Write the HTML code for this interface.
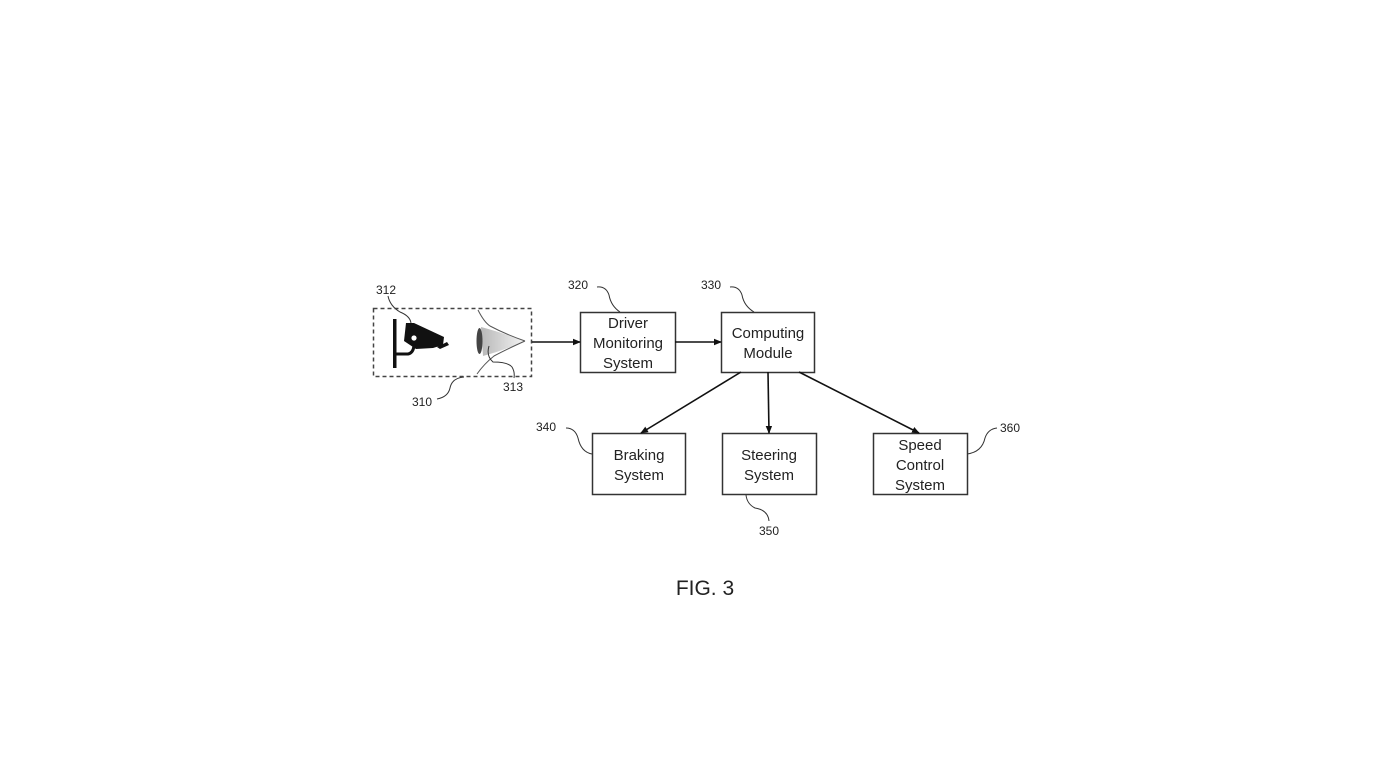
<!DOCTYPE html>
<html>
<head>
<meta charset="utf-8">
<style>
  html,body{margin:0;padding:0;background:#fff;}
  svg{display:block;}
  text{font-family:"Liberation Sans",sans-serif;fill:#222;}
</style>
</head>
<body>
<svg width="1389" height="781" viewBox="0 0 1389 781" xmlns="http://www.w3.org/2000/svg">
  <defs>
    <marker id="ah" markerWidth="8" markerHeight="8" refX="7" refY="4" orient="auto" markerUnits="userSpaceOnUse">
      <path d="M0,0.8 L8,4 L0,7.2 Z" fill="#111"/>
    </marker>
    <linearGradient id="cone" x1="0" y1="0" x2="1" y2="0">
      <stop offset="0" stop-color="#b8b8b8"/>
      <stop offset="1" stop-color="#f4f4f4"/>
    </linearGradient>
  </defs>

  <!-- dashed box 310 -->
  <rect x="373.5" y="308.5" width="158" height="68" fill="none" stroke="#444" stroke-width="1.5" stroke-dasharray="4,3"/>

  <!-- camera icon -->
  <rect x="393" y="319" width="3.5" height="49" fill="#111"/>
  <path d="M395,354 L408,354 Q413,353 414,346" fill="none" stroke="#111" stroke-width="3"/>
  <path d="M406,323 L414,323 L444,337 L443,345 L433,348 L416,349 L404,341 Z" fill="#111"/>
  <path d="M437,347 L447,342 L449,345 L440,349 Z" fill="#111"/>
  <circle cx="414" cy="338" r="2.6" fill="#fff"/>

  <!-- eye / cone -->
  <path d="M481,327 Q500,332 525,341 Q505,350 483,356 Z" fill="url(#cone)"/>
  <ellipse cx="479.5" cy="341" rx="3" ry="13" fill="#444"/>
  <path d="M478,310 Q484,322 490,326 Q505,334 525,341" fill="none" stroke="#555" stroke-width="1"/>
  <path d="M525,341 Q505,350 494,356 Q484,364 477,374" fill="none" stroke="#555" stroke-width="1"/>
  <path d="M489,346 Q486,356 493,362 Q508,362 512,367 Q515,372 514,378" fill="none" stroke="#333" stroke-width="1"/>

  <!-- leaders -->
  <path d="M388,296 Q390,306 400,312 Q410,316 411,323" fill="none" stroke="#333" stroke-width="1"/>
  <path d="M437,399 Q448,397 450,388 Q452,378 464,377" fill="none" stroke="#333" stroke-width="1"/>
  <path d="M597,287 Q606,286 609,295 Q611,306 620,312" fill="none" stroke="#333" stroke-width="1"/>
  <path d="M730,287 Q739,286 742,295 Q744,306 754,312" fill="none" stroke="#333" stroke-width="1"/>
  <path d="M566,428 Q575,428 578,438 Q581,452 592,454" fill="none" stroke="#333" stroke-width="1"/>
  <path d="M746,495 Q747,504 755,508 Q768,510 769,521" fill="none" stroke="#333" stroke-width="1"/>
  <path d="M997,428 Q988,429 985,438 Q982,452 967,454" fill="none" stroke="#333" stroke-width="1"/>

  <!-- labels -->
  <text x="386" y="294" font-size="12" text-anchor="middle">312</text>
  <text x="422" y="406" font-size="12" text-anchor="middle">310</text>
  <text x="513" y="391" font-size="12" text-anchor="middle">313</text>
  <text x="578" y="289" font-size="12" text-anchor="middle">320</text>
  <text x="711" y="289" font-size="12" text-anchor="middle">330</text>
  <text x="546" y="431" font-size="12" text-anchor="middle">340</text>
  <text x="769" y="535" font-size="12" text-anchor="middle">350</text>
  <text x="1010" y="432" font-size="12" text-anchor="middle">360</text>

  <!-- boxes -->
  <g fill="#fff" stroke="#333" stroke-width="1.5">
    <rect x="580.5" y="312.5" width="95" height="60"/>
    <rect x="721.5" y="312.5" width="93" height="60"/>
    <rect x="592.5" y="433.5" width="93" height="61"/>
    <rect x="722.5" y="433.5" width="94" height="61"/>
    <rect x="873.5" y="433.5" width="94" height="61"/>
  </g>

  <g font-size="15" text-anchor="middle">
    <text x="628" y="328">Driver</text>
    <text x="628" y="348">Monitoring</text>
    <text x="628" y="368">System</text>
    <text x="768" y="338">Computing</text>
    <text x="768" y="358">Module</text>
    <text x="639" y="460">Braking</text>
    <text x="639" y="480">System</text>
    <text x="769" y="460">Steering</text>
    <text x="769" y="480">System</text>
    <text x="920" y="450">Speed</text>
    <text x="920" y="470">Control</text>
    <text x="920" y="490">System</text>
  </g>

  <!-- arrows -->
  <g stroke="#111" stroke-width="1.6" fill="none" marker-end="url(#ah)">
    <line x1="532" y1="342" x2="580" y2="342"/>
    <line x1="675" y1="342" x2="721" y2="342"/>
    <line x1="741" y1="372" x2="641" y2="433"/>
    <line x1="768" y1="372" x2="769" y2="433"/>
    <line x1="799" y1="372" x2="919" y2="433"/>
  </g>

  <text x="705" y="595" font-size="21" text-anchor="middle">FIG. 3</text>
</svg>
</body>
</html>
